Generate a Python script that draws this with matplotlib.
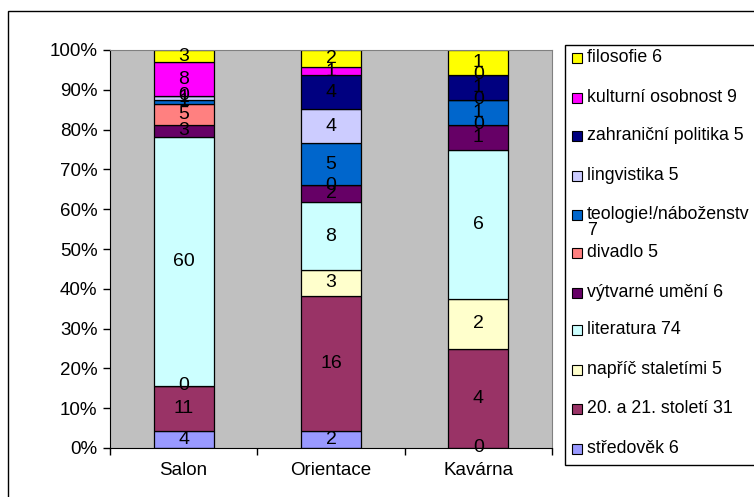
import matplotlib.pyplot as plt
from matplotlib.patches import Rectangle
import numpy as np

plt.rcParams['font.family'] = ['Liberation Sans', 'DejaVu Sans']
plt.rcParams['font.size'] = 10

categories = ['Salon', 'Orientace', 'Kavárna']

# series from bottom to top
series = ['středověk 6', '20. a 21. století 31', 'napříč staletími 5', 'literatura 74',
          'výtvarné umění 6', 'divadlo 5', 'teologie!/náboženstv\n7', 'lingvistika 5',
          'zahraniční politika 5', 'kulturní osobnost 9', 'filosofie 6']
colors = ['#9999FF', '#993366', '#FFFFCC', '#CCFFFF', '#660066', '#FF8080',
          '#0066CC', '#CCCCFF', '#000080', '#FF00FF', '#FFFF00']

stredovek = [4, 2, 0]
stoleti_20_21 = [11, 16, 4]
napric = [0, 3, 2]
literatura = [60, 8, 6]
vytvarne = [3, 2, 1]
divadlo = [5, 0, 0]
teologie = [1, 5, 1]
lingvistika = [1, 4, 0]
zahranicni = [0, 4, 1]
kulturni = [8, 1, 0]
filosofie = [3, 2, 1]

values = [stredovek, stoleti_20_21, napric, literatura, vytvarne, divadlo,
          teologie, lingvistika, zahranicni, kulturni, filosofie]

W, H = 754, 497
fig = plt.figure(figsize=(W / 100, H / 100), dpi=100)

# outer chart border
fig.patches.append(Rectangle((8 / W, -0.1), 1.2, (H - 11) / H + 0.1, transform=fig.transFigure,
                             fill=False, edgecolor='black', lw=1))

ax = fig.add_axes([110 / W, 1 - 448 / H, (552 - 110) / W, (448 - 50) / H])
ax.set_facecolor('#C0C0C0')

data = np.array(values, dtype=float)
totals = data.sum(axis=0)
x = np.arange(len(categories))
bottom = np.zeros(len(categories))
for name, col, vals in zip(series, colors, data):
    frac = vals / totals
    bars = ax.bar(x, frac, 0.405, bottom=bottom, color=col, edgecolor='black', lw=0.9)
    ax.bar_label(bars, labels=[str(int(v)) for v in vals], label_type='center',
                 fontsize=14, color='black')
    bottom += frac

ax.set_xlim(-0.5, 2.5)
ax.set_ylim(0, 1)
ax.set_yticks(np.arange(0, 1.01, 0.1))
ax.set_yticklabels([f'{int(round(v * 100))}%' for v in np.arange(0, 1.01, 0.1)])
ax.tick_params(axis='y', direction='out', length=5, width=1, pad=4, labelsize=13.5)
ax.set_xticks(x)
ax.set_xticklabels(categories)
ax.tick_params(axis='x', which='major', length=0, pad=10, labelsize=13.5)
ax.set_xticks([-0.5, 0.5, 1.5, 2.5], minor=True)
ax.tick_params(axis='x', which='minor', direction='out', length=5, width=1)
for s in ['top', 'right']:
    ax.spines[s].set_color('#808080')
for s in ['left', 'bottom']:
    ax.spines[s].set_color('black')

# legend box drawn in figure pixels
lx0, ly0, ly1 = 565, 45, 465
fig.patches.append(Rectangle((lx0 / W, 1 - ly1 / H), 1.0, (ly1 - ly0) / H,
                             transform=fig.transFigure, facecolor='white',
                             edgecolor='black', lw=1))
ypos = [449, 409, 370, 330, 293, 253, 215, 176, 136, 98, 58]
for name, col, yp in zip(series, colors, ypos):
    fig.patches.append(Rectangle((572 / W, 1 - (yp + 5) / H), 10 / W, 10 / H,
                                 transform=fig.transFigure, facecolor=col,
                                 edgecolor='black', lw=0.8))
    fig.text(587 / W, 1 - (yp - 9) / H, name, ha='left', va='top', fontsize=12.8,
             linespacing=0.95)

fig.savefig('out.png', dpi=100)
